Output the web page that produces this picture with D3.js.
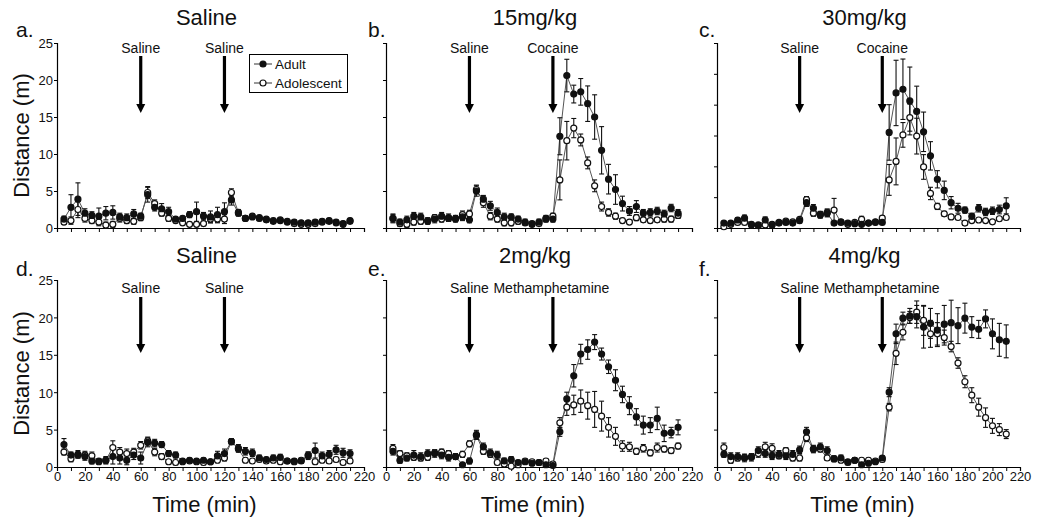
<!DOCTYPE html>
<html>
<head>
<meta charset="utf-8">
<script src="https://cdn.jsdelivr.net/npm/d3@7"></script>
<style>
  html, body { margin: 0; padding: 0; background: #fff; }
  svg { display: block; font-family: "Liberation Sans", Arial, sans-serif; }
</style>
</head>
<body>
<svg id="chart" width="1050" height="526"></svg>
<script>
// ---------- data ----------
const times = [5,10,15,20,25,30,35,40,45,50,55,60,65,70,75,80,85,90,95,100,105,110,115,120,125,130,135,140,145,150,155,160,165,170,175,180,185,190,195,200,205,210];
const xTicks = [0,10,20,30,40,50,60,70,80,90,100,110,120,130,140,150,160,170,180,190,200,210,220];
const yTicks25 = [0,5,10,15,20,25];
const yTicks30 = [0,5,10,15,20,25,30];
const seriesNames = ["Adult", "Adolescent"];
const panelLetters = ["a.", "b.", "c.", "d.", "e.", "f."];
const panelTitles = ["Saline", "15mg/kg", "30mg/kg", "Saline", "2mg/kg", "4mg/kg"];
const injectionTimes = [60, 120];
const injectionLabels = [["Saline","Saline"],["Saline","Cocaine"],["Saline","Cocaine"],["Saline","Saline"],["Saline","Methamphetamine"],["Saline","Methamphetamine"]];
const yMaxes = [25, 25, 30, 25, 25, 25];

const aAdult    = [1.2,2.8,3.9,2.0,1.7,1.6,2.0,2.1,1.5,1.4,1.9,1.6,4.5,2.8,2.6,2.2,1.2,1.3,1.8,2.2,1.6,1.5,1.8,2.2,3.8,2.0,1.3,1.5,1.3,1.1,0.9,1.0,0.8,0.8,0.7,0.7,0.8,0.9,1.0,0.8,0.6,1.0];
const aAdultErr = [0.4,1.7,2.2,0.6,0.5,1.1,0.9,0.9,0.5,0.5,0.6,0.4,1.0,0.5,0.7,0.6,0.3,0.3,0.4,1.3,0.5,0.8,1.0,1.2,0.7,0.4,0.3,0.3,0.3,0.3,0.3,0.3,0.3,0.3,0.3,0.3,0.3,0.3,0.3,0.3,0.3,0.3];
const aAdol     = [0.8,1.0,2.5,1.3,1.0,0.8,0.4,0.5,1.3,1.0,0.9,1.4,4.8,3.3,2.0,1.3,1.0,0.7,0.5,0.5,0.6,1.2,1.2,1.2,4.8,2.1,1.3,1.6,1.4,1.2,1.0,1.1,0.9,0.6,0.5,0.5,0.6,0.8,0.9,0.7,0.5,0.9];
const aAdolErr  = [0.3,0.5,1.1,0.5,0.4,0.5,0.4,0.4,0.5,0.4,0.4,0.4,0.8,0.5,0.4,0.4,0.3,0.3,0.3,0.3,0.3,0.5,0.5,0.6,0.5,0.4,0.3,0.3,0.3,0.3,0.3,0.3,0.3,0.3,0.3,0.3,0.3,0.3,0.3,0.3,0.3,0.3];

const bAdult    = [1.3,0.8,1.1,1.6,1.5,0.9,1.2,1.6,1.4,1.2,1.5,1.1,5.0,3.9,3.0,2.1,1.5,1.5,1.2,0.8,0.5,0.8,1.3,1.2,12.4,20.6,18.1,18.4,16.8,15.0,10.5,6.6,5.2,3.3,2.3,2.9,2.0,2.1,2.3,1.9,2.7,2.0];
const bAdultErr = [0.5,0.4,0.5,0.5,0.5,0.4,0.5,0.5,0.5,0.4,0.5,0.4,0.7,0.5,0.6,0.6,0.5,0.4,0.4,0.4,0.3,0.4,0.4,0.4,2.5,2.2,1.2,1.8,2.4,3.0,3.2,2.0,2.0,1.0,0.6,0.8,0.5,0.5,0.5,0.5,0.5,0.5];
const bAdol     = [1.3,0.6,0.5,0.8,0.9,1.0,1.4,1.2,1.3,1.3,1.8,1.9,5.2,3.4,1.6,1.2,0.7,0.7,0.9,0.7,0.6,0.6,1.2,1.6,6.5,11.8,13.5,11.9,8.8,5.7,2.9,2.1,1.6,1.0,0.8,1.4,1.1,1.0,1.1,1.2,1.2,1.7];
const bAdolErr  = [0.6,0.4,0.4,0.4,0.4,0.4,0.4,0.4,0.4,0.4,0.5,0.5,0.6,0.6,0.5,0.4,0.4,0.4,0.4,0.3,0.3,0.3,0.4,0.4,2.7,2.6,1.3,0.8,0.8,0.8,0.6,0.5,0.4,0.3,0.3,0.4,0.3,0.3,0.3,0.4,0.4,0.4];

const cAdult    = [0.8,0.8,1.3,1.6,0.6,0.5,1.3,0.5,0.8,0.9,0.8,1.2,4.1,3.2,2.1,2.4,0.8,1.0,0.8,0.7,0.6,0.8,0.9,0.9,15.5,21.9,22.5,20.6,18.9,15.6,11.7,7.9,6.1,4.1,3.2,2.9,1.9,3.2,2.6,2.8,3.0,3.6];
const cAdultErr = [0.3,0.3,0.4,0.5,0.3,0.3,0.5,0.3,0.3,0.3,0.3,0.4,0.6,0.6,0.5,0.6,0.3,0.3,0.3,0.3,0.3,0.3,0.3,0.3,4.5,5.3,4.9,5.5,4.1,3.2,2.3,1.4,1.5,1.0,0.8,0.5,0.5,0.6,0.6,0.6,0.7,1.3];
const cAdol     = [0.2,0.6,0.9,0.9,0.5,0.4,0.5,0.6,0.9,1.1,1.0,1.4,4.6,2.4,2.2,2.5,2.9,0.9,0.6,0.9,1.4,0.8,1.0,1.6,7.8,10.8,15.1,17.9,14.9,9.9,5.6,3.5,2.3,1.8,1.7,0.8,1.2,1.3,1.2,1.0,1.5,1.7];
const cAdolErr  = [0.3,0.3,0.3,0.3,0.3,0.3,0.3,0.3,0.3,0.3,0.3,0.3,0.5,0.5,0.5,0.6,1.9,0.3,0.3,0.3,0.5,0.3,0.3,0.4,2.5,3.8,2.0,2.2,2.9,2.0,1.0,0.5,0.4,0.3,0.3,0.3,0.3,0.3,0.3,0.3,0.3,0.3];

const dAdult    = [3.0,1.6,1.7,1.4,0.8,0.8,0.9,1.4,1.2,0.9,1.6,1.2,3.3,3.2,3.0,1.8,1.6,0.8,0.9,0.8,0.9,0.7,1.5,1.8,3.4,2.5,2.1,1.9,1.2,1.0,1.2,1.3,0.8,0.8,0.8,1.5,2.2,1.5,1.7,2.3,1.9,1.8];
const dAdultErr = [0.8,0.4,0.5,0.5,0.4,0.3,0.4,1.0,0.8,0.6,0.6,0.8,0.6,0.5,0.4,0.4,0.4,0.3,0.3,0.3,0.3,0.3,0.6,0.6,0.4,0.5,0.5,0.5,0.4,0.3,0.4,0.4,0.3,0.3,0.3,0.5,1.0,0.5,0.5,0.6,0.6,0.5];
const dAdol     = [2.0,1.1,1.6,1.6,1.5,0.7,0.9,2.6,2.0,1.8,2.0,2.9,3.5,2.0,1.4,0.7,0.6,0.7,0.8,0.7,0.6,0.7,0.9,1.2,3.4,2.4,0.9,0.8,1.0,0.8,0.9,0.7,0.8,0.7,0.9,1.6,0.7,0.9,0.8,1.0,0.6,0.8];
const dAdolErr  = [0.4,0.4,0.4,0.5,0.5,0.3,0.5,0.9,0.6,0.6,0.5,0.5,0.5,0.5,0.4,0.3,0.3,0.3,0.3,0.3,0.3,0.3,0.3,0.4,0.4,0.4,0.3,0.3,0.3,0.3,0.3,0.3,0.3,0.3,0.3,0.4,0.3,0.3,0.3,0.3,0.3,0.3];

const eAdult    = [2.1,0.9,1.2,1.6,1.4,1.8,1.8,1.6,1.3,1.4,0.3,0.8,4.3,2.7,1.9,1.6,0.8,1.0,0.6,0.7,0.5,0.6,0.3,0.2,4.7,9.1,12.2,15.1,15.7,16.7,15.1,13.4,11.6,9.7,8.2,6.7,5.6,5.6,6.5,4.5,4.6,5.3];
const eAdultErr = [0.5,0.4,0.4,0.6,0.5,0.5,0.5,0.5,0.5,0.4,0.3,0.4,0.6,0.5,0.5,0.5,0.4,0.4,0.3,0.3,0.3,0.3,0.3,0.3,0.6,0.9,1.5,1.3,1.3,1.0,0.8,0.9,1.4,1.1,1.2,1.1,1.2,1.0,1.5,1.1,0.7,1.0];
const eAdol     = [2.5,1.8,1.5,1.3,1.2,1.3,1.9,2.0,1.8,1.4,1.7,3.1,4.2,2.1,1.7,0.6,0.4,0.1,0.3,0.8,0.7,0.6,0.8,0.4,5.9,8.0,8.3,8.8,8.2,7.7,6.8,5.3,4.1,2.8,2.7,2.1,2.5,1.9,2.6,2.4,2.2,2.8];
const eAdolErr  = [0.5,0.4,0.4,0.4,0.4,0.4,0.4,0.4,0.4,0.3,0.4,0.4,0.5,0.4,0.4,0.3,0.3,0.3,0.3,0.3,0.3,0.3,0.3,0.3,0.7,1.1,1.3,1.5,1.8,2.4,2.0,1.3,1.2,0.7,0.6,0.4,0.5,0.4,0.6,0.4,0.4,0.4];

const fAdult    = [1.7,1.4,1.4,1.2,1.3,2.2,1.8,1.5,1.7,1.5,1.7,2.3,4.7,2.4,2.7,2.2,1.1,1.2,0.7,0.9,0.3,0.5,0.7,1.2,10.0,17.8,19.9,20.2,20.1,18.7,19.2,18.3,19.1,19.3,18.9,19.9,18.7,18.4,19.8,17.8,17.0,16.8];
const fAdultErr = [0.4,0.5,0.5,0.5,0.5,0.5,0.5,0.5,0.5,0.5,0.5,0.5,0.6,0.5,0.5,0.5,0.4,0.4,0.3,0.3,0.3,0.3,0.3,0.3,0.6,1.3,0.8,1.0,1.5,2.8,2.0,2.2,2.5,3.0,2.4,2.0,1.4,1.2,1.2,2.0,2.2,2.2];
const fAdol     = [2.6,0.9,1.2,1.3,1.4,1.8,2.7,2.5,1.5,2.2,1.2,1.2,3.9,2.4,2.4,1.2,1.1,0.9,0.6,0.9,0.9,0.9,0.8,1.0,8.0,15.2,18.0,20.0,20.7,19.6,17.8,17.8,17.3,16.1,13.9,11.4,9.6,8.0,6.6,5.5,5.0,4.4];
const fAdolErr  = [0.6,0.4,0.4,0.4,0.4,0.5,0.6,0.6,0.4,0.4,0.4,0.4,0.5,0.4,0.4,0.3,0.3,0.3,0.3,0.3,0.3,0.3,0.3,0.3,0.5,1.5,1.0,0.8,1.5,2.0,1.8,1.5,1.0,0.7,0.7,0.8,1.0,1.2,1.3,1.0,0.8,0.6];

const panelAdult    = [aAdult, bAdult, cAdult, dAdult, eAdult, fAdult];
const panelAdultErr = [aAdultErr, bAdultErr, cAdultErr, dAdultErr, eAdultErr, fAdultErr];
const panelAdol     = [aAdol, bAdol, cAdol, dAdol, eAdol, fAdol];
const panelAdolErr  = [aAdolErr, bAdolErr, cAdolErr, dAdolErr, eAdolErr, fAdolErr];

// ---------- layout ----------
const svg = d3.select("#chart");
const colX0 = [57, 386, 717];
const colW = [307, 306, 303];
const rowTop = [43, 280];
const rowBottom = [228, 467];
const textColor = "#111";

for (let p = 0; p < 6; p++) {
  const col = p % 3, row = Math.floor(p / 3);
  const x = d3.scaleLinear().domain([0, 220]).range([colX0[col], colX0[col] + colW[col]]);
  const y = d3.scaleLinear().domain([0, yMaxes[p]]).range([rowBottom[row], rowTop[row]]);
  const g = svg.append("g");

  // y axis
  const yAxis = d3.axisLeft(y).tickValues(yMaxes[p] === 30 ? yTicks30 : yTicks25).tickSize(3).tickPadding(1)
    .tickFormat(col === 0 ? d3.format("d") : () => "");
  const ya = g.append("g").attr("transform", `translate(${colX0[col]},0)`).call(yAxis);
  ya.select(".domain").attr("stroke", "#000").attr("stroke-width", 1.2);
  ya.selectAll(".tick line").attr("stroke", "#000");
  ya.selectAll("text").attr("font-size", 13).attr("fill", textColor)
    .attr("font-family", "Liberation Sans, Arial, sans-serif").attr("dy", "0.38em");

  // x axis
  const xAxis = d3.axisBottom(x).tickValues(xTicks).tickSize(4).tickPadding(1)
    .tickFormat(d => (row === 1 && d % 20 === 0) ? d : "");
  const xa = g.append("g").attr("transform", `translate(0,${rowBottom[row]})`).call(xAxis);
  xa.select(".domain").attr("stroke", "#000").attr("stroke-width", 1.2);
  xa.selectAll(".tick line").attr("stroke", "#000");
  xa.selectAll("text").attr("font-size", 13).attr("fill", textColor)
    .attr("font-family", "Liberation Sans, Arial, sans-serif");

  // titles
  const cx = (colX0[col] + colX0[col] + colW[col]) / 2;
  g.append("text").attr("x", cx - 4).attr("y", row === 0 ? 25 : 263)
    .attr("text-anchor", "middle").attr("font-size", 22).attr("fill", textColor).text(panelTitles[p]);
  g.append("text").attr("x", colX0[col] - (col === 0 ? 41 : 18)).attr("y", row === 0 ? 37 : 276)
    .attr("font-size", 21).attr("fill", textColor).text(panelLetters[p]);

  if (col === 0) {
    g.append("text")
      .attr("transform", `translate(29,${(rowTop[row] + rowBottom[row]) / 2}) rotate(-90)`)
      .attr("text-anchor", "middle").attr("font-size", 22).attr("fill", textColor).text("Distance (m)");
  }
  if (row === 1) {
    g.append("text").attr("x", cx - 6).attr("y", 512).attr("text-anchor", "middle")
      .attr("font-size", 22).attr("fill", textColor).text("Time (min)");
  }

  // arrows
  const aTop = row === 0 ? 56 : 297, aTip = row === 0 ? 113 : 353, lblY = row === 0 ? 53 : 293;
  injectionTimes.forEach((t, i) => {
    const ax = x(t);
    g.append("line").attr("x1", ax).attr("x2", ax).attr("y1", aTop).attr("y2", aTip - 8)
      .attr("stroke", "#000").attr("stroke-width", 3.2);
    g.append("path").attr("d", `M${ax - 4.5},${aTip - 9} L${ax + 4.5},${aTip - 9} L${ax},${aTip} Z`).attr("fill", "#000");
    const lbl = injectionLabels[p][i];
    const t0 = g.append("text").attr("y", lblY).attr("font-size", 14).attr("fill", textColor).text(lbl);
    if (lbl === "Methamphetamine") {
      t0.attr("x", x(injectionTimes[0]) + 24).attr("text-anchor", "start");
    } else {
      t0.attr("x", ax).attr("text-anchor", "middle");
    }
  });

  // series
  const series = [
    { vals: panelAdult[p], errs: panelAdultErr[p], fill: "#111" },
    { vals: panelAdol[p], errs: panelAdolErr[p], fill: "#fff" }
  ];
  const line = d3.line().x((d, i) => x(times[i])).y(d => y(d));
  series.forEach(s => {
    g.append("path").datum(s.vals).attr("d", line).attr("fill", "none")
      .attr("stroke", "#555").attr("stroke-width", 1);
  });
  series.forEach(s => {
    const eb = g.append("g");
    s.vals.forEach((v, i) => {
      const xx = x(times[i]), y1 = y(v + s.errs[i]), y2 = y(Math.max(0, v - s.errs[i]));
      eb.append("line").attr("x1", xx).attr("x2", xx).attr("y1", y1).attr("y2", y2)
        .attr("stroke", "#111").attr("stroke-width", 1.1);
      [y1, y2].forEach(yy => eb.append("line").attr("x1", xx - 2.5).attr("x2", xx + 2.5)
        .attr("y1", yy).attr("y2", yy).attr("stroke", "#111").attr("stroke-width", 1.1));
    });
  });
  series.slice().reverse().forEach(s => {
    g.append("g").selectAll("circle").data(s.vals).join("circle")
      .attr("cx", (d, i) => x(times[i])).attr("cy", d => y(d)).attr("r", 3)
      .attr("fill", s.fill).attr("stroke", "#111").attr("stroke-width", 1.2);
  });

  // legend (panel a only)
  if (p === 0) {
    const lg = g.append("g");
    lg.append("rect").attr("x", 249.5).attr("y", 54.5).attr("width", 98).attr("height", 38)
      .attr("fill", "#fff").attr("stroke", "#000").attr("stroke-width", 1);
    seriesNames.forEach((name, i) => {
      const ly = 64 + i * 19;
      lg.append("line").attr("x1", 254).attr("x2", 272).attr("y1", ly).attr("y2", ly)
        .attr("stroke", "#333").attr("stroke-width", 1);
      lg.append("circle").attr("cx", 263).attr("cy", ly).attr("r", 3)
        .attr("fill", i === 0 ? "#111" : "#fff").attr("stroke", "#111").attr("stroke-width", 1.2);
      lg.append("text").attr("x", 275).attr("y", ly + 4.5).attr("font-size", 13.5)
        .attr("fill", textColor).text(name);
    });
  }
}
</script>
</body>
</html>
